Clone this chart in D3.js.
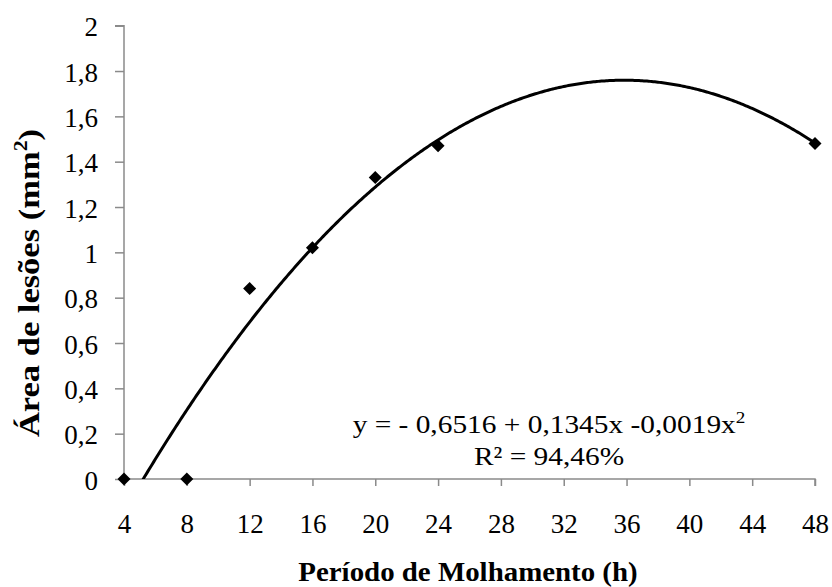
<!DOCTYPE html>
<html>
<head>
<meta charset="utf-8">
<script src="https://cdn.jsdelivr.net/npm/d3@7"></script>
</head>
<body style="margin:0">
<svg id="chart" width="832" height="587"></svg>
<script>
// Wetting period (h) and mean lesion area (mm²)
const hours = [4, 8, 12, 16, 20, 24, 48];
const lesionArea = [0, 0, 0.84, 1.02, 1.33, 1.47, 1.48];
const xTicks = [4, 8, 12, 16, 20, 24, 28, 32, 36, 40, 44, 48];
const yTicks = [0, 0.2, 0.4, 0.6, 0.8, 1, 1.2, 1.4, 1.6, 1.8, 2];
const equationText = ["y = - 0,6516 + 0,1345x -0,0019x", "2"];
const r2Text = "R² = 94,46%";

const FONT = "'Liberation Serif'";
const svg = d3.select("#chart");
const x = d3.scaleLinear().domain([4, 48]).range([124, 815]);
const y = d3.scaleLinear().domain([0, 2]).range([479, 25.7]);
const fmt = v => String(+v.toFixed(1)).replace(".", ",");

// Least-squares quadratic trend line (a + b·x + c·x²)
function quadFit(xs, ys) {
  const s = [0, 0, 0, 0, 0], t = [0, 0, 0];
  xs.forEach((xi, i) => {
    for (let k = 0; k < 5; k++) s[k] += Math.pow(xi, k);
    for (let k = 0; k < 3; k++) t[k] += ys[i] * Math.pow(xi, k);
  });
  const M = [[s[0], s[1], s[2], t[0]], [s[1], s[2], s[3], t[1]], [s[2], s[3], s[4], t[2]]];
  for (let i = 0; i < 3; i++) {
    for (let j = i + 1; j < 3; j++) {
      const f = M[j][i] / M[i][i];
      for (let k = i; k < 4; k++) M[j][k] -= f * M[i][k];
    }
  }
  const c = [0, 0, 0];
  for (let i = 2; i >= 0; i--) {
    let v = M[i][3];
    for (let k = i + 1; k < 3; k++) v -= M[i][k] * c[k];
    c[i] = v / M[i][i];
  }
  return c;
}
const [a, b, c] = quadFit(hours, lesionArea);

// Axes
const axisColor = "#8a8a8a";
const yAxis = svg.append("g").attr("transform", `translate(${x(4)},0)`)
  .call(d3.axisLeft(y).tickValues(yTicks).tickSize(9).tickFormat(fmt));
const xAxis = svg.append("g").attr("transform", `translate(0,${y(0)})`)
  .call(d3.axisBottom(x).tickValues(xTicks).tickSize(7).tickFormat(d => d));
[yAxis, xAxis].forEach(g => {
  g.attr("font-family", null).attr("font-size", null);
  g.select(".domain").attr("stroke", axisColor).attr("stroke-width", 1.5);
  g.selectAll(".tick line").attr("stroke", axisColor).attr("stroke-width", 1.5);
  g.selectAll(".tick text").style("font-family", FONT).style("font-size", "27px").attr("fill", "#000");
});
yAxis.selectAll(".tick text").attr("x", -26).attr("y", 10).attr("dy", null);
xAxis.selectAll(".tick text").attr("y", 53.5).attr("dy", null);
yAxis.select(".domain").attr("d", `M-9,${y(2)}H0V${y(0)}`);
xAxis.select(".domain").attr("d", `M${x(4)},0H${x(48)}V7`);

// Trend line, clipped to the plot area
svg.append("clipPath").attr("id", "plot")
  .append("rect").attr("x", x(4)).attr("y", y(2)).attr("width", x(48) - x(4)).attr("height", y(0) - y(2));
const curveX = d3.range(4, 48.001, 0.1);
svg.append("path")
  .attr("clip-path", "url(#plot)")
  .attr("d", d3.line().x(d => x(d)).y(d => y(a + b * d + c * d * d))(curveX))
  .attr("fill", "none").attr("stroke", "#000").attr("stroke-width", 3);

// Observed points as diamonds
const r = 6.5;
svg.append("g").selectAll("path").data(hours).join("path")
  .attr("d", (d, i) => {
    const cx = x(d), cy = y(lesionArea[i]);
    return `M${cx},${cy - r}L${cx + r},${cy}L${cx},${cy + r}L${cx - r},${cy}Z`;
  })
  .attr("fill", "#000");

// Equation and R²
const eq = svg.append("text").attr("transform", "translate(549,433) scale(1.13,1)")
  .attr("text-anchor", "middle")
  .style("font-family", FONT).style("font-size", "26px");
eq.append("tspan").text(equationText[0]);
eq.append("tspan").style("font-size", "17px").attr("dy", -10).text(equationText[1]);
svg.append("text").attr("transform", "translate(549,465) scale(1.13,1)")
  .attr("text-anchor", "middle")
  .style("font-family", FONT).style("font-size", "26px").text(r2Text);

// Axis titles
svg.append("text").attr("transform", "translate(468,581) scale(1.07,1)")
  .attr("text-anchor", "middle")
  .style("font-family", FONT).style("font-size", "27px").style("font-weight", "bold")
  .text("Período de Molhamento (h)");
const yt = svg.append("text").attr("transform", "translate(39,283) rotate(-90) scale(1.15,1)")
  .attr("text-anchor", "middle")
  .style("font-family", FONT).style("font-size", "30px").style("font-weight", "bold");
yt.append("tspan").text("Área de lesões (mm");
yt.append("tspan").style("font-size", "19px").attr("dy", -12).text("2");
yt.append("tspan").attr("dy", 12).text(")");
</script>
</body>
</html>
